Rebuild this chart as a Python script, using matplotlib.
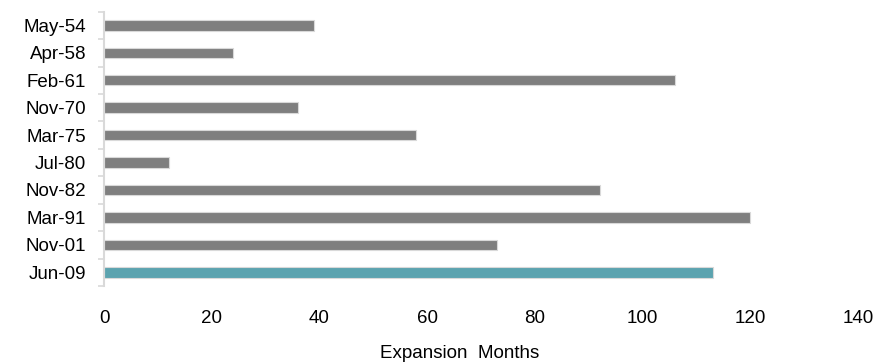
import matplotlib
matplotlib.use("Agg")
import matplotlib.pyplot as plt
import numpy as np

plt.rcParams['font.family'] = ['Liberation Sans', 'DejaVu Sans']

# Start of each US expansion and its length in months
starts = ["May-54", "Apr-58", "Feb-61", "Nov-70", "Mar-75",
          "Jul-80", "Nov-82", "Mar-91", "Nov-01", "Jun-09"]
months = [39, 24, 106, 36, 58, 12, 92, 120, 73, 113]
highlight = "Jun-09"

x_ticks = [0, 20, 40, 60, 80, 100, 120, 140]

fig = plt.figure(figsize=(8.82, 3.63), dpi=100)
ax = fig.add_axes([0.118, 0.212, 0.855, 0.756])

pos = np.arange(len(starts))
colors = ["#5BA3AF" if s == highlight else "#7F7F7F" for s in starts]
ax.barh(pos, months, height=0.38, color=colors,
        edgecolor="#D9D9D9", linewidth=0.8)

ax.set_ylim(len(starts) - 0.5, -0.5)
ax.set_xlim(0, 140)

ax.set_yticks(pos)
ax.set_yticklabels(starts, fontsize=13.5)
ax.set_yticks(np.arange(-0.5, len(starts)), minor=True)
ax.tick_params(axis="y", which="major", length=0, pad=13)
ax.tick_params(axis="y", which="minor", length=4, width=1.2, color="#D9D9D9")

ax.set_xticks(x_ticks)
ax.set_xticklabels([str(t) for t in x_ticks], fontsize=13.5)
ax.tick_params(axis="x", length=0, pad=17)

for side in ("top", "right", "bottom"):
    ax.spines[side].set_visible(False)
ax.spines["left"].set_color("#D9D9D9")
ax.spines["left"].set_linewidth(1.5)

ax.set_xlabel("Expansion  Months", fontsize=13.5)
ax.xaxis.set_label_coords(0.471, -0.245)
ax.xaxis.label.set_verticalalignment("center")

fig.savefig("out.png", dpi=100)
